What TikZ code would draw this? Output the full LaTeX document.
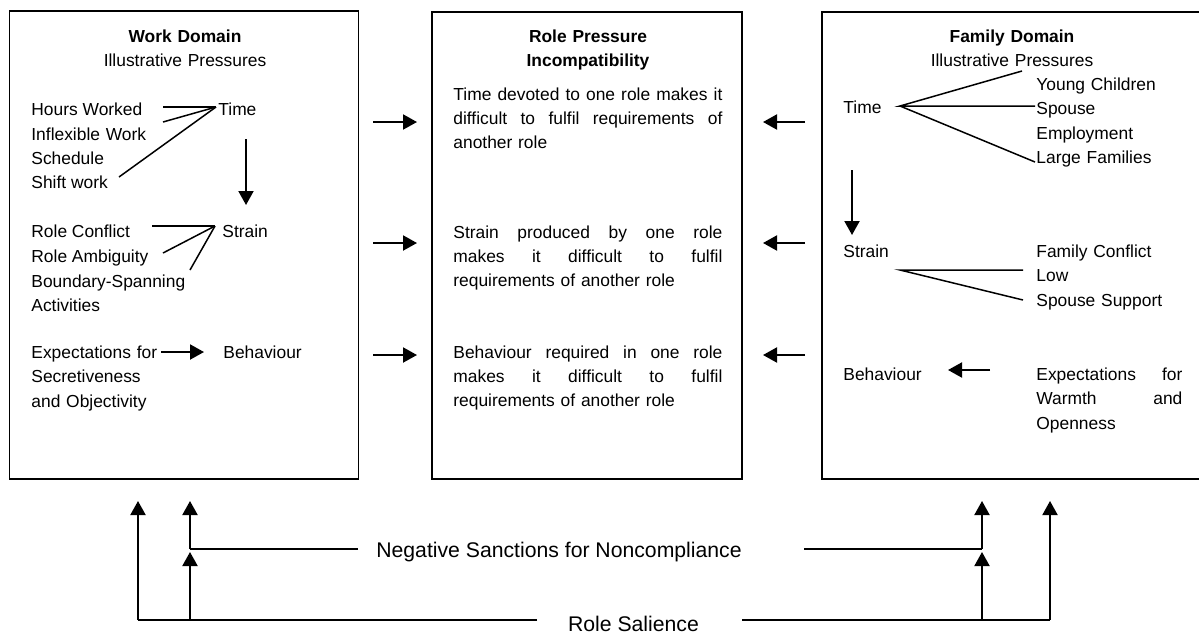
\documentclass[tikz,border=0pt]{standalone}
\usepackage{fontspec}
\setmainfont{Liberation Sans}
\usetikzlibrary{arrows.meta}
\newcommand\jline[2]{\leavevmode\hbox to #1{\spaceskip=0.278em plus 1fil\xspaceskip=\spaceskip\relax #2}}
\begin{document}
\begin{tikzpicture}[x=0.5pt,y=-0.5pt,
  box/.style={draw,line width=0.9pt,inner sep=0,outer sep=0,anchor=north west},
  txt/.style={font=\fontsize{8.7}{12.25}\selectfont,inner sep=0,anchor=base west},
  mtxt/.style={txt,text width=#1,align=left},
  ptxt/.style={txt,font=\fontsize{8.7}{12}\selectfont,text width=#1,align=left},
  head/.style={font=\fontsize{8.7}{12}\selectfont,inner sep=0,anchor=base,text width=140pt,align=center},
  big/.style={font=\fontsize{10.6}{12}\selectfont,inner sep=0,anchor=base},
  ln/.style={line width=0.75pt},
  rl/.style={line width=1pt},
  arr/.style={line width=1pt,-{Triangle[length=7pt,width=7.5pt]}},
]
\useasboundingbox (0,0) rectangle (1199,633);
\clip (0,0) rectangle (1199,633);
% boxes
\node[box,minimum width=174.5pt,minimum height=234pt] (wd) at (9.5,11) {};
\node[box,minimum width=155pt,minimum height=233.5pt] (rp) at (432,12) {};
\node[box,minimum width=192pt,minimum height=233.5pt] (fd) at (822,12) {};
% ---------- work domain
\node[head] (wdh) at (185,42) {\textbf{Work Domain}\\Illustrative Pressures};
\node[txt] (hw) at (31,115) {Hours Worked};
\node[mtxt=80pt] (ifw) at (31,140) {Inflexible Work\\Schedule};
\node[txt] (sw) at (31,188) {Shift work};
\node[txt] (wtime) at (218,115) {Time};
\coordinate (wtJ) at (216,107);
\coordinate (hwE) at (163,107);
\coordinate (ifwE) at (163,122);
\coordinate (swE) at (119,177);
\draw[ln] (hwE) -- (wtJ);
\draw[ln] (ifwE) -- (wtJ);
\draw[ln] (swE) -- (wtJ);
\coordinate (wta) at (246,139);
\coordinate (wtb) at (246,205);
\draw[arr] (wta) -- (wtb);
\node[txt] (rc) at (31,237) {Role Conflict};
\node[txt] (ra) at (31,262) {Role Ambiguity};
\node[mtxt=100pt] (bsa) at (31,287) {Boundary-Spanning\\Activities};
\node[txt] (wstrain) at (222,237) {Strain};
\coordinate (wsJ) at (215,226);
\coordinate (rcE) at (152,226);
\coordinate (raE) at (163,253);
\coordinate (bsaE) at (190,270);
\draw[ln] (rcE) -- (wsJ);
\draw[ln] (raE) -- (wsJ);
\draw[ln] (bsaE) -- (wsJ);
\node[mtxt=90pt] (wexp) at (31,358) {Expectations for\\Secretiveness\\and Objectivity};
\node[txt] (wbeh) at (223,358) {Behaviour};
\coordinate (wea) at (161,352);
\coordinate (web) at (204,352);
\draw[arr] (wea) -- (web);
% ---------- role pressure
\node[head] (rph) at (588,42) {\textbf{Role Pressure}\\\textbf{Incompatibility}};
\node[ptxt=134.5pt] (p1) at (453,100) {\jline{134.5pt}{Time devoted to one role makes it}\\\jline{134.5pt}{difficult to fulfil requirements of}\\another role};
\node[ptxt=134.5pt] (p2) at (453,238) {\jline{134.5pt}{Strain produced by one role}\\\jline{134.5pt}{makes it difficult to fulfil}\\requirements of another role};
\node[ptxt=134.5pt] (p3) at (453,358) {\jline{134.5pt}{Behaviour required in one role}\\\jline{134.5pt}{makes it difficult to fulfil}\\requirements of another role};
% arrows between boxes
\foreach \yy/\nn in {122/1,243/2,355/3}{
  \coordinate (la\nn) at (373,\yy);
  \coordinate (lb\nn) at (417,\yy);
  \coordinate (ra\nn) at (805,\yy);
  \coordinate (rb\nn) at (763,\yy);
  \draw[arr] (la\nn) -- (lb\nn);
  \draw[arr] (ra\nn) -- (rb\nn);
}
% ---------- family domain
\node[head] (fdh) at (1012,42) {\textbf{Family Domain}\\Illustrative Pressures};
\node[txt] (ftime) at (843,113) {Time};
\node[mtxt=90pt] (fti) at (1036,90) {Young Children\\Spouse\\Employment\\Large Families};
\coordinate (ftJ) at (900,106);
\coordinate (ft1) at (1022,71);
\coordinate (ft2) at (1035,106);
\coordinate (ft3) at (1035,162);
\draw[ln] (ft1) -- (ftJ) -- (ft2);
\draw[ln] (ftJ) -- (ft3);
\coordinate (fta) at (852,170);
\coordinate (ftb) at (852,235);
\draw[arr] (fta) -- (ftb);
\node[txt] (fstrain) at (843,257) {Strain};
\node[mtxt=90pt] (fsi) at (1036,257) {Family Conflict\\Low\\Spouse Support};
\coordinate (fsJ) at (900,270);
\coordinate (fs1) at (1023,270);
\coordinate (fs2) at (1023,300);
\draw[ln] (fs1) -- (fsJ) -- (fs2);
\node[txt] (fbeh) at (843,380) {Behaviour};
\node[mtxt=73pt] (fexp) at (1036,380) {\jline{73pt}{Expectations for}\\\jline{73pt}{Warmth and}\\Openness};
\coordinate (fea) at (990,370);
\coordinate (feb) at (948,370);
\draw[arr] (fea) -- (feb);
% ---------- bottom
\node[big] (neg) at (559,557) {Negative Sanctions for Noncompliance};
\node[big] (rs) at (633.5,631) {Role Salience};
\coordinate (a1b) at (138,620); \coordinate (a1t) at (138,501);
\coordinate (a2b) at (190,620); \coordinate (a2m) at (190,549); \coordinate (a2h) at (190,552); \coordinate (a2t) at (190,501);
\coordinate (a3b) at (982,620); \coordinate (a3m) at (982,549); \coordinate (a3h) at (982,552); \coordinate (a3t) at (982,501);
\coordinate (a4b) at (1050,620); \coordinate (a4t) at (1050,501);
\coordinate (negL) at (358,549); \coordinate (negR) at (804,549);
\coordinate (rsL) at (537,620); \coordinate (rsR) at (742,620);
\draw[ln] (negL) -- (a2m);
\draw[ln] (negR) -- (a3m);
\draw[rl] (rsL) -- (a1b);
\draw[rl] (rsR) -- (a4b);
\draw[arr] (a1b) -- (a1t);
\draw[arr] (a2b) -- (a2h);
\draw[arr] (a2m) -- (a2t);
\draw[arr] (a3b) -- (a3h);
\draw[arr] (a3m) -- (a3t);
\draw[arr] (a4b) -- (a4t);
\end{tikzpicture}
\end{document}
